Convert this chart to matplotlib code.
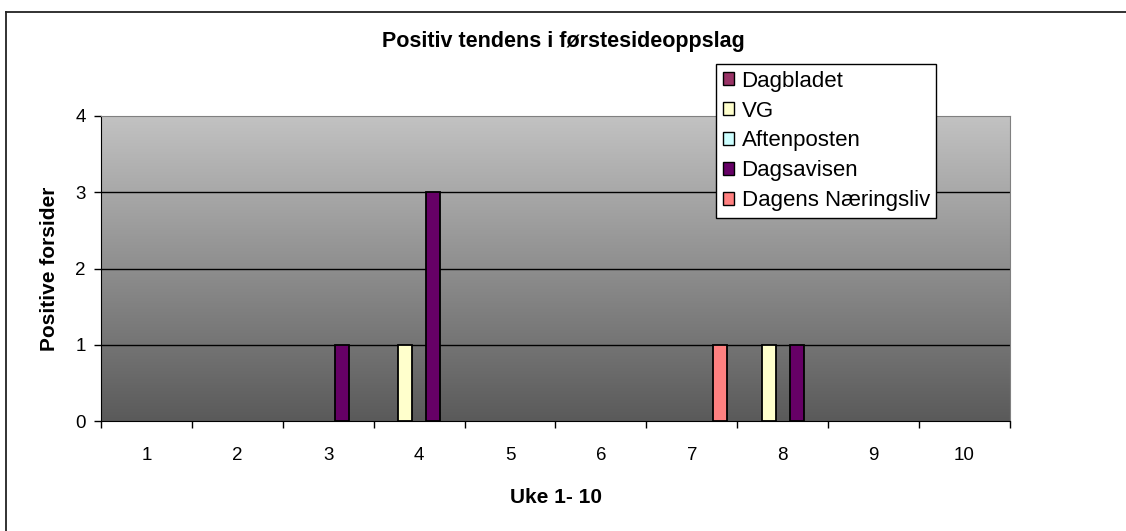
import matplotlib
matplotlib.use("Agg")
import matplotlib.pyplot as plt
import numpy as np
from matplotlib.colors import LinearSegmentedColormap
from matplotlib.patches import Patch
from matplotlib.lines import Line2D

weeks = list(range(1, 11))
series_names = ['Dagbladet', 'VG', 'Aftenposten', 'Dagsavisen', 'Dagens Næringsliv']
dagbladet = [0, 0, 0, 0, 0, 0, 0, 0, 0, 0]
vg = [0, 0, 0, 1, 0, 0, 0, 1, 0, 0]
aftenposten = [0, 0, 0, 0, 0, 0, 0, 0, 0, 0]
dagsavisen = [0, 0, 1, 3, 0, 0, 0, 1, 0, 0]
dagens_naeringsliv = [0, 0, 0, 0, 0, 0, 1, 0, 0, 0]
series = [dagbladet, vg, aftenposten, dagsavisen, dagens_naeringsliv]
colors = ['#993366', '#FFFFCC', '#CCFFFF', '#660066', '#FF8080']

plt.rcParams['font.family'] = ['Liberation Sans', 'DejaVu Sans']

fig = plt.figure(figsize=(11.26, 5.31), dpi=100)
ax = fig.add_axes([101 / 1126, 1 - 421 / 531, 909 / 1126, 305 / 531])

# grey gradient plot area, lighter at the top
cmap = LinearSegmentedColormap.from_list('bg', ['#5A5A5A', '#C2C2C2'])
grad = np.linspace(0, 1, 256).reshape(-1, 1)
ax.imshow(grad, cmap=cmap, aspect='auto', origin='lower',
          extent=[0.5, 10.5, 0, 4], zorder=0)

for y in [1, 2, 3]:
    ax.axhline(y, color='black', lw=1, zorder=1)

w = 1 / 6.5
x = np.array(weeks)
for i, (vals, c) in enumerate(zip(series, colors)):
    bars = ax.bar(x + (i - 2) * w, vals, width=w, color=c, edgecolor='black',
                  linewidth=1.3, zorder=3)
    for b, v in zip(bars, vals):
        if v == 0:
            b.set_visible(False)

ax.set_xlim(0.5, 10.5)
ax.set_ylim(0, 4)
ax.set_yticks([0, 1, 2, 3, 4])
ax.set_xticks(np.arange(0.5, 11, 1))
ax.set_xticklabels([])
ax.set_xticks(weeks, minor=True)
ax.set_xticklabels([str(k) for k in weeks], minor=True)
ax.tick_params(axis='x', which='major', direction='out', length=5, width=1)
ax.tick_params(axis='x', which='minor', length=0, pad=19, labelsize=13.5)
ax.tick_params(axis='y', direction='out', length=5, width=1, labelsize=13.5, pad=6)

ax.spines['left'].set_color('black')
ax.spines['bottom'].set_color('black')
ax.spines['top'].set_color('#808080')
ax.spines['right'].set_color('#808080')

ax.set_ylabel('Positive forsider', fontsize=15, fontweight='bold', labelpad=12)
ax.set_xlabel('Uke 1- 10', fontsize=15, fontweight='bold', labelpad=17)
fig.text(0.5, 1 - 41 / 531, 'Positiv tendens i førstesideoppslag', ha='center',
         va='center', fontsize=15.5, fontweight='bold')

handles = [Patch(facecolor=c, edgecolor='black', linewidth=1) for c in colors]
leg = fig.legend(handles, series_names, loc='upper left',
                 bbox_to_anchor=(716 / 1126, 1 - 64 / 531),
                 fontsize=16, frameon=True, fancybox=False, handlelength=0.5,
                 handleheight=0.5, handletextpad=0.35, labelspacing=0.4,
                 borderpad=0.3, borderaxespad=0)
leg.get_frame().set_edgecolor('black')
leg.get_frame().set_linewidth(1)
leg.get_frame().set_alpha(1)

# outer chart frame, only left and top edges fall inside the picture
fig.lines.append(Line2D([6 / 1126, 6 / 1126], [0, 1 - 12 / 531],
                        transform=fig.transFigure, color='#222222', lw=1.3))
fig.lines.append(Line2D([6 / 1126, 1], [1 - 12 / 531, 1 - 12 / 531],
                        transform=fig.transFigure, color='#222222', lw=1.3))

fig.savefig('out.png', dpi=100)
